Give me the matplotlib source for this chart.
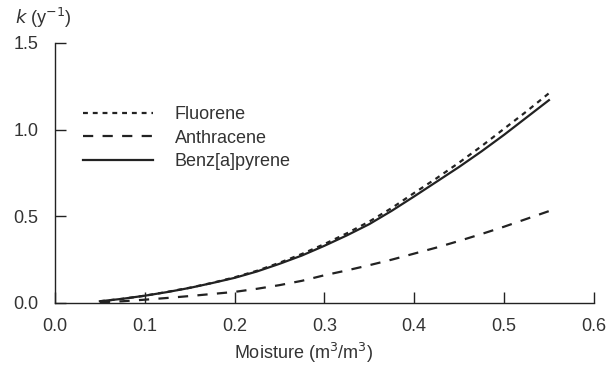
import matplotlib
matplotlib.use("Agg")
import matplotlib.pyplot as plt

plt.rcParams["font.family"] = ["Liberation Sans", "DejaVu Sans"]

# 수분 함량별 분해 속도 상수 k (y^-1)
moisture = [0.050, 0.075, 0.100, 0.125, 0.150, 0.175, 0.200, 0.225, 0.250, 0.275, 0.300,
            0.325, 0.350, 0.375, 0.400, 0.425, 0.450, 0.475, 0.500, 0.525, 0.550]
fluorene = [0.010, 0.024, 0.042, 0.064, 0.088, 0.116, 0.148, 0.186, 0.232, 0.283, 0.340,
            0.402, 0.470, 0.548, 0.635, 0.720, 0.810, 0.905, 1.005, 1.105, 1.210]
anthracene = [0.004, 0.010, 0.019, 0.029, 0.040, 0.052, 0.064, 0.082, 0.103, 0.128, 0.160,
              0.188, 0.218, 0.250, 0.285, 0.320, 0.358, 0.398, 0.440, 0.485, 0.530]
benzapyrene = [0.010, 0.024, 0.042, 0.063, 0.087, 0.115, 0.145, 0.182, 0.226, 0.274, 0.330,
               0.390, 0.455, 0.532, 0.615, 0.700, 0.785, 0.875, 0.970, 1.070, 1.170]

xticks = [0.0, 0.1, 0.2, 0.3, 0.4, 0.5, 0.6]
yticks = [0.0, 0.5, 1.0, 1.5]

INK = "#222222"
TXT = "#333333"
FS = 13

fig = plt.figure(figsize=(6.09, 3.69), dpi=100)
ax = fig.add_axes([0.0903, 0.1789, 0.8848, 0.7046])

ax.plot(moisture, fluorene, color=INK, lw=1.6, dashes=(2.2, 2.2), label="Fluorene")
ax.plot(moisture, anthracene, color=INK, lw=1.6, dashes=(4.6, 4.2), label="Anthracene")
ax.plot(moisture, benzapyrene, color=INK, lw=1.6, label="Benz[a]pyrene")

ax.set_xlim(0, 0.6)
ax.set_ylim(0, 1.5)
ax.set_xticks(xticks)
ax.set_xticklabels([f"{t:.1f}" for t in xticks])
ax.set_yticks(yticks)
ax.set_yticklabels([f"{t:.1f}" for t in yticks])

for s in ("top", "right"):
    ax.spines[s].set_visible(False)
for s in ("left", "bottom"):
    ax.spines[s].set_color(INK)
    ax.spines[s].set_linewidth(1.0)
ax.tick_params(direction="in", length=8, width=1.0, color=INK,
               labelsize=FS, labelcolor=TXT)
ax.tick_params(axis="x", pad=11)
ax.tick_params(axis="y", pad=12)

ax.set_xlabel("Moisture (m$^3$/m$^3$)", fontsize=FS, color=TXT)
ax.xaxis.set_label_coords(0.462, -0.145)
fig.text(0.024, 0.95, r"$k$ (y$^{-1}$)", fontsize=FS, color=TXT,
         ha="left", va="center")

ax.legend(loc="upper left", bbox_to_anchor=(0.021, 0.82), frameon=False,
          fontsize=FS, handlelength=3.9, handletextpad=1.2, labelspacing=0.36,
          labelcolor=TXT)

fig.savefig("out.png", dpi=100)
